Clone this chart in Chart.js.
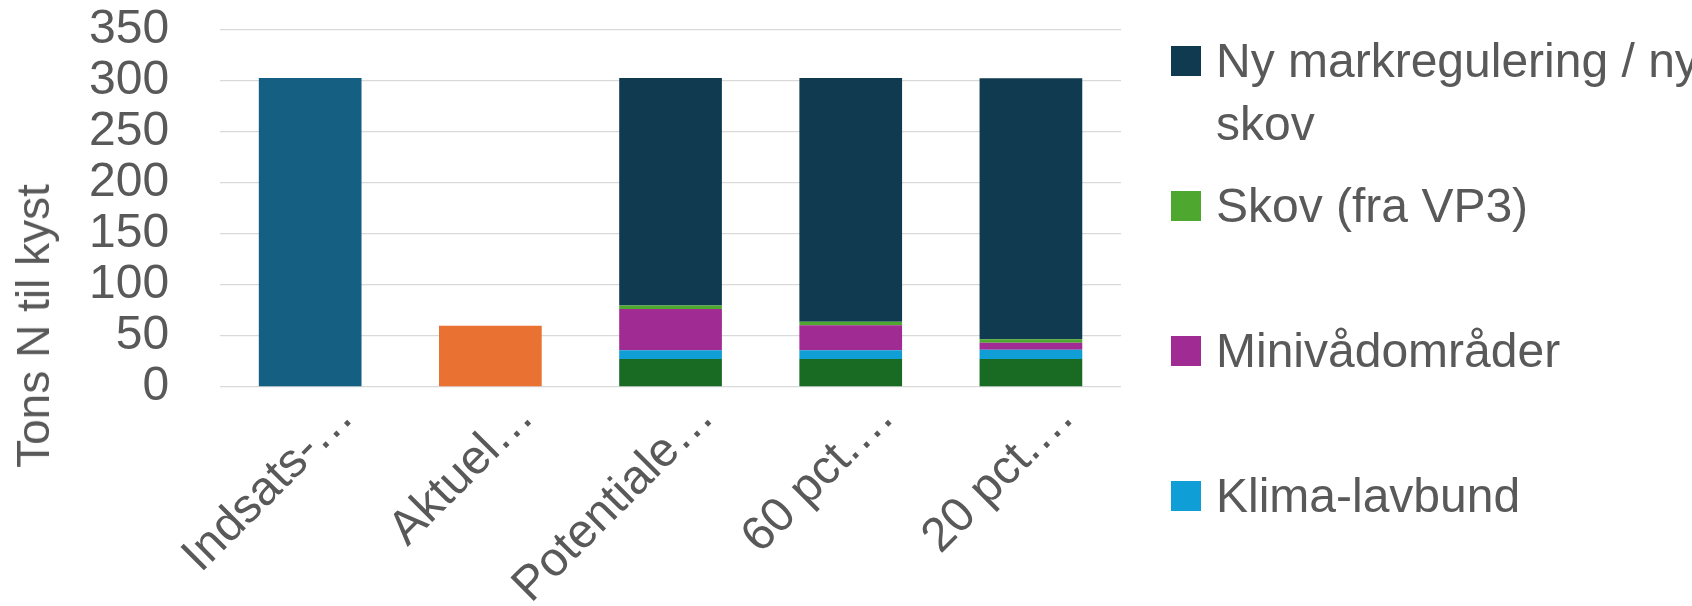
<!DOCTYPE html>
<html>
<head>
<meta charset="utf-8">
<script src="https://cdn.jsdelivr.net/npm/chart.js"></script>
<style>
  html, body { margin: 0; padding: 0; background: #fff; }
  body { width: 1692px; height: 606px; overflow: hidden; position: relative; font-family: "Liberation Sans", Arial, sans-serif; }
  #wrap { position: absolute; left: 0; top: 0; width: 1692px; height: 606px; }
  #yTitle { position: absolute; left: 33px; top: 326px; transform: translate(-50%, -50%) rotate(-90deg);
            font-size: 46px; color: #595959; white-space: nowrap; }
  #legend { position: absolute; left: 1171px; top: 0; width: 521px; }
  .item { position: absolute; left: 0; display: flex; align-items: flex-start; }
  .box { width: 30px; height: 30px; flex: none; margin-top: 17px; margin-right: 15px; }
  .txt { font-size: 48px; line-height: 63px; color: #595959; width: 540px; }
</style>
</head>
<body>
<div id="wrap"><canvas id="chart"></canvas></div>
<div id="yTitle">Tons N til kyst</div>
<div id="legend"></div>
<script>
// kategorier og værdier (tons N)
const categories = ["Indsats-\u2026", "Aktuel\u2026", "Potentiale\u2026", "60 pct.\u2026", "20 pct.\u2026"];
const indsats      = [303, null, null, null, null];
const aktuel       = [null, 60, null, null, null];
const oevrige      = [null, null, 27.5, 27.5, 27.5];
const klimaLavbund = [null, null, 8.5, 8.5, 9];
const miniVaad     = [null, null, 40.5, 24.5, 7];
const skovVP3      = [null, null, 3.5, 3.5, 3.3];
const nyMarkreg    = [null, null, 223, 239, 256];
const yTicks = [0, 50, 100, 150, 200, 250, 300, 350];

const series = [
  { label: "Indsatsbehov", data: indsats, color: "#156082", legend: false },
  { label: "Aktuel", data: aktuel, color: "#E97132", legend: false },
  { label: "Øvrige virkemidler", data: oevrige, color: "#196B24", legend: false },
  { label: "Klima-lavbund", data: klimaLavbund, color: "#0F9ED5", legend: true },
  { label: "Minivådområder", data: miniVaad, color: "#A02B93", legend: true },
  { label: "Skov (fra VP3)", data: skovVP3, color: "#4EA72E", legend: true },
  { label: "Ny markregulering / ny skov", data: nyMarkreg, color: "#0F3A50", legend: true }
];

const FONT = "'Liberation Sans', Arial, sans-serif";

new Chart(document.getElementById("chart"), {
  type: "bar",
  data: {
    labels: categories,
    datasets: series.map(s => ({
      label: s.label,
      data: s.data,
      backgroundColor: s.color,
      borderWidth: 0,
      categoryPercentage: 1,
      barPercentage: 0.57
    }))
  },
  options: {
    responsive: true,
    maintainAspectRatio: false,
    animation: false,
    layout: { padding: { left: 38, right: 571, top: 30, bottom: 0 } },
    plugins: {
      legend: { display: false },
      tooltip: { enabled: false }
    },
    scales: {
      x: {
        stacked: true,
        grid: { display: false, drawTicks: false },
        border: { display: false },
        afterFit: s => { s.height = 219; s.paddingLeft = 0; s.paddingRight = 0; },
        ticks: {
          color: "#595959",
          font: { family: FONT, size: 48 },
          minRotation: 45,
          maxRotation: 45,
          autoSkip: false,
          padding: 2,
          labelOffset: 36
        }
      },
      y: {
        stacked: true,
        min: 0,
        max: 350,
        afterBuildTicks: s => { s.ticks = yTicks.map(v => ({ value: v })); },
        afterFit: s => { s.paddingTop = 0; s.paddingBottom = 0; },
        grid: { color: "#d9d9d9", lineWidth: 1.3, drawTicks: false },
        border: { display: false },
        ticks: {
          color: "#595959",
          font: { family: FONT, size: 48 },
          autoSkip: false,
          padding: 51
        }
      }
    }
  }
});

// legend (kun de fire viste serier, i omvendt rækkefølge)
const legendEl = document.getElementById("legend");
series.filter(s => s.legend).reverse().forEach((s, i) => {
  const row = document.createElement("div");
  row.className = "item";
  row.style.top = (29 + i * 145) + "px";
  row.innerHTML = '<div class="box" style="background:' + s.color + '"></div><div class="txt">' + s.label + '</div>';
  legendEl.appendChild(row);
});
</script>
</body>
</html>
